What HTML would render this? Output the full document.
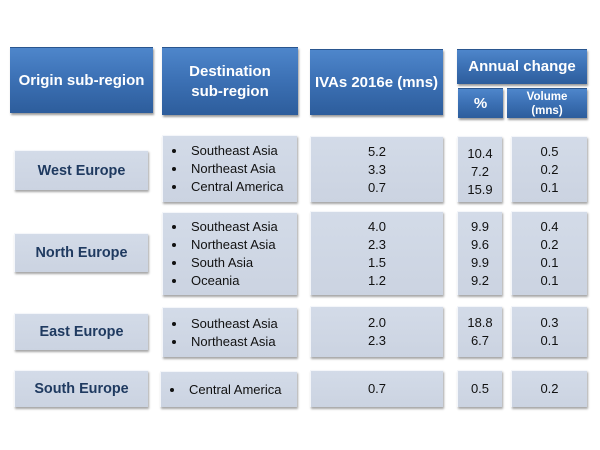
<!DOCTYPE html>
<html><head><meta charset="utf-8">
<style>
html,body{margin:0;padding:0;background:#fff;}
body{width:600px;height:450px;position:relative;overflow:hidden;font-family:"Liberation Sans",sans-serif;}
.h{position:absolute;background:linear-gradient(to bottom,#4e86cb 0%,#3d72b6 45%,#2d5d9c 100%);border-top:1px solid #2a568f;box-shadow:1px 2px 2px rgba(0,0,0,0.4);color:#fff;font-weight:bold;font-size:15px;display:flex;align-items:center;justify-content:center;text-align:center;line-height:20px;box-sizing:border-box;}
.b{position:absolute;background:linear-gradient(to bottom,#d3dbe8,#cbd3e1);border-top:1px solid #f4f6fa;border-left:1px solid #f4f6fa;box-shadow:1px 2px 2px rgba(0,0,0,0.35);box-sizing:border-box;display:flex;align-items:center;justify-content:center;text-align:center;color:#111;font-size:13px;line-height:18px;}
.o{color:#1f3a60;font-weight:bold;font-size:14.4px;}
.d{justify-content:flex-start;text-align:left;}
.d ul{margin:0;padding:0;list-style:none;}
.d li{position:relative;padding-left:28px;}
.d li:before{content:"";position:absolute;left:9px;top:7px;width:4px;height:4px;border-radius:50%;background:#111;}
</style></head><body>
<div class="h" style="left:10px;top:47px;width:143px;height:66px;">Origin sub-region</div>
<div class="h" style="left:162px;top:47px;width:136px;height:68px;">Destination<br>sub-region</div>
<div class="h" style="left:310px;top:49px;width:133px;height:66px;">IVAs 2016e (mns)</div>
<div class="h" style="left:457px;top:49px;width:130px;height:35px;">Annual change</div>
<div class="h" style="left:458px;top:88px;width:45px;height:30px;">%</div>
<div class="h" style="left:507px;top:88px;width:80px;height:30px;font-size:11.5px;line-height:14px;">Volume<br>(mns)</div>

<!-- Row 1 -->
<div class="b o" style="left:14px;top:150px;width:134px;height:40px;">West Europe</div>
<div class="b d" style="left:162px;top:135px;width:135px;height:67px;"><ul><li>Southeast Asia</li><li>Northeast Asia</li><li>Central America</li></ul></div>
<div class="b" style="left:310px;top:136px;width:133px;height:66px;">5.2<br>3.3<br>0.7</div>
<div class="b" style="left:457px;top:136px;width:45px;height:66px;padding-top:4px;">10.4<br>7.2<br>15.9</div>
<div class="b" style="left:511px;top:136px;width:76px;height:66px;">0.5<br>0.2<br>0.1</div>

<!-- Row 2 -->
<div class="b o" style="left:14px;top:233px;width:134px;height:39px;">North Europe</div>
<div class="b d" style="left:162px;top:212px;width:135px;height:83px;"><ul><li>Southeast Asia</li><li>Northeast Asia</li><li>South Asia</li><li>Oceania</li></ul></div>
<div class="b" style="left:310px;top:211px;width:133px;height:84px;">4.0<br>2.3<br>1.5<br>1.2</div>
<div class="b" style="left:457px;top:211px;width:45px;height:84px;">9.9<br>9.6<br>9.9<br>9.2</div>
<div class="b" style="left:511px;top:211px;width:76px;height:84px;">0.4<br>0.2<br>0.1<br>0.1</div>

<!-- Row 3 -->
<div class="b o" style="left:14px;top:313px;width:134px;height:37px;">East Europe</div>
<div class="b d" style="left:162px;top:307px;width:135px;height:50px;"><ul><li>Southeast Asia</li><li>Northeast Asia</li></ul></div>
<div class="b" style="left:310px;top:306px;width:133px;height:51px;">2.0<br>2.3</div>
<div class="b" style="left:457px;top:306px;width:45px;height:51px;">18.8<br>6.7</div>
<div class="b" style="left:511px;top:306px;width:76px;height:51px;">0.3<br>0.1</div>

<!-- Row 4 -->
<div class="b o" style="left:14px;top:370px;width:134px;height:37px;">South Europe</div>
<div class="b d" style="left:160px;top:371px;width:137px;height:36px;"><ul><li>Central America</li></ul></div>
<div class="b" style="left:310px;top:370px;width:133px;height:37px;">0.7</div>
<div class="b" style="left:457px;top:370px;width:45px;height:37px;">0.5</div>
<div class="b" style="left:511px;top:370px;width:76px;height:37px;">0.2</div>
</body></html>
